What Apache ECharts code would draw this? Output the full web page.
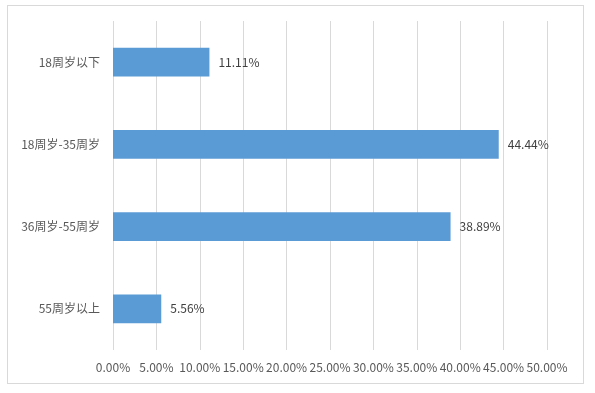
<!DOCTYPE html>
<html><head><meta charset="utf-8">
<script src="https://cdn.jsdelivr.net/npm/echarts@6/dist/echarts.min.js"></script>
<style>html,body{margin:0;padding:0;background:#fff}#c{width:595px;height:393px;position:relative}
#frame{position:absolute;left:7px;top:5px;width:577px;height:379px;border:1px solid #d9d9d9;box-sizing:border-box;pointer-events:none}</style>
</head><body><div id="c"></div><div id="frame"></div>
<script>
const categories = ['18周岁以下', '18周岁-35周岁', '36周岁-55周岁', '55周岁以上'];
const values = [11.11, 44.44, 38.89, 5.56];
const xMin = 0, xMax = 50, xStep = 5;

const chart = echarts.init(document.getElementById('c'), null, {renderer: 'canvas'});
const font = '"Noto Sans CJK SC", "Noto Sans", sans-serif';
chart.setOption({
  animation: false,
  grid: {left: 113, right: 48, top: 21, bottom: 43, containLabel: false},
  xAxis: {
    type: 'value', min: xMin, max: xMax, interval: xStep,
    axisLine: {show: false}, axisTick: {show: false},
    splitLine: {show: true, lineStyle: {color: '#d9d9d9', width: 1}},
    axisLabel: {color: '#595959', fontSize: 12, fontFamily: font, margin: 11,
      formatter: v => v.toFixed(2) + '%'}
  },
  yAxis: {
    type: 'category', data: categories, inverse: true,
    axisLine: {show: false}, axisTick: {show: false},
    axisLabel: {color: '#595959', fontSize: 12, fontFamily: font, margin: 13}
  },
  series: [{
    type: 'bar', data: values, barWidth: '35%',
    itemStyle: {color: '#5B9BD5'},
    label: {show: true, position: 'right', distance: 9, color: '#404040', fontSize: 12, fontFamily: font,
      formatter: p => p.value.toFixed(2) + '%'}
  }]
});
</script></body></html>
